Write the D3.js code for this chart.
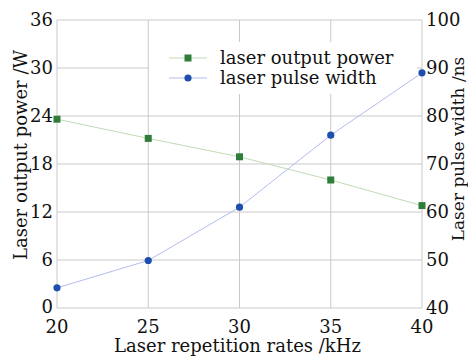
<!DOCTYPE html>
<html>
<head>
<meta charset="utf-8">
<script src="https://cdn.jsdelivr.net/npm/d3@7"></script>
<style>
  body { margin: 0; background: #fff; }
  text { font-family: "DejaVu Serif", serif; fill: #111; }
</style>
</head>
<body>
<svg id="chart"></svg>
<script>
// data
const rates = [20, 25, 30, 35, 40];
const outputPower = [23.6, 21.2, 18.9, 16.0, 12.8];
const pulseWidth = [44.2, 49.9, 61.0, 76.0, 89.0];
const powerTicks = [0, 6, 12, 18, 24, 30, 36];
const widthTicks = [40, 50, 60, 70, 80, 90, 100];
const seriesNames = ["laser output power", "laser pulse width"];

const width = 468, height = 358;
const margin = {top: 20, right: 46, bottom: 50, left: 57};

const svg = d3.select("#chart").attr("width", width).attr("height", height);

const x = d3.scaleLinear().domain([20, 40]).range([margin.left, width - margin.right]);
const yL = d3.scaleLinear().domain([0, 36]).range([height - margin.bottom, margin.top]);
const yR = d3.scaleLinear().domain([40, 100]).range([height - margin.bottom, margin.top]);

const gridColor = "#c9c9c9";

// grid
svg.append("g").selectAll("line.v").data(rates).join("line")
    .attr("x1", d => x(d)).attr("x2", d => x(d))
    .attr("y1", yL(0)).attr("y2", yL(36))
    .attr("stroke", gridColor).attr("stroke-width", 1);
svg.append("g").selectAll("line.h").data(powerTicks).join("line")
    .attr("x1", x(20)).attr("x2", x(40))
    .attr("y1", d => yL(d)).attr("y2", d => yL(d))
    .attr("stroke", gridColor).attr("stroke-width", 1);

// legend background hides the grid behind it
svg.append("rect")
    .attr("x", 149).attr("y", 42)
    .attr("width", 268).attr("height", 52)
    .attr("fill", "#fff");

// axes labels
const fs = 18;
svg.append("g").selectAll("text").data(powerTicks).join("text")
    .attr("x", x(20) - 4).attr("y", d => yL(d))
    .attr("dy", d => d === 0 ? "0.25em" : "0.36em")
    .attr("text-anchor", "end")
    .style("font-size", fs + "px")
    .text(d => d);
svg.append("g").selectAll("text").data(widthTicks).join("text")
    .attr("x", x(40) + 4).attr("y", d => yR(d))
    .attr("dy", "0.36em")
    .style("font-size", fs + "px")
    .text(d => d);
svg.append("g").selectAll("text").data(rates).join("text")
    .attr("x", d => x(d)).attr("y", yL(0) + 25)
    .attr("text-anchor", "middle")
    .style("font-size", fs + "px")
    .text(d => d);

svg.append("text")
    .attr("x", (x(20) + x(40)) / 2 - 2).attr("y", height - 6)
    .attr("text-anchor", "middle")
    .style("font-size", "18px")
    .text("Laser repetition rates /kHz");
svg.append("text")
    .attr("transform", `translate(27, 155) rotate(-90)`)
    .attr("text-anchor", "middle")
    .style("font-size", "18px")
    .text("Laser output power /W");
svg.append("text")
    .attr("transform", `translate(464, 149) rotate(-90)`)
    .attr("text-anchor", "middle")
    .style("font-size", "17px")
    .text("Laser pulse width /ns");

// series
const powerData = rates.map((r, i) => ({r, v: outputPower[i]}));
const widthData = rates.map((r, i) => ({r, v: pulseWidth[i]}));
const green = "#2f7d3b", blue = "#1f4fae";

svg.append("path").datum(powerData)
    .attr("d", d3.line().x(d => x(d.r)).y(d => yL(d.v)))
    .attr("fill", "none").attr("stroke", "#c2dbb6").attr("stroke-width", 1);
svg.append("path").datum(widthData)
    .attr("d", d3.line().x(d => x(d.r)).y(d => yR(d.v)))
    .attr("fill", "none").attr("stroke", "#b3bcef").attr("stroke-width", 1);

svg.append("g").selectAll("rect").data(powerData).join("rect")
    .attr("x", d => x(d.r) - 3.5).attr("y", d => yL(d.v) - 3.5)
    .attr("width", 7).attr("height", 7)
    .attr("fill", green);
svg.append("g").selectAll("circle").data(widthData).join("circle")
    .attr("cx", d => x(d.r)).attr("cy", d => yR(d.v))
    .attr("r", 3.6)
    .attr("fill", blue);

// legend
const legend = svg.append("g");
const rowY = [58, 78];
legend.selectAll("line").data(rowY).join("line")
    .attr("x1", 169).attr("x2", 207)
    .attr("y1", d => d).attr("y2", d => d)
    .attr("stroke", (d, i) => i === 0 ? "#c2dbb6" : "#b3bcef");
legend.append("rect").attr("x", 184.5).attr("y", rowY[0] - 3.5)
    .attr("width", 7).attr("height", 7).attr("fill", green);
legend.append("circle").attr("cx", 188).attr("cy", rowY[1]).attr("r", 3.6).attr("fill", blue);
legend.selectAll("text").data(seriesNames).join("text")
    .attr("x", 220).attr("y", (d, i) => rowY[i])
    .attr("dy", "0.33em")
    .style("font-size", "18px")
    .text(d => d);
</script>
</body>
</html>
